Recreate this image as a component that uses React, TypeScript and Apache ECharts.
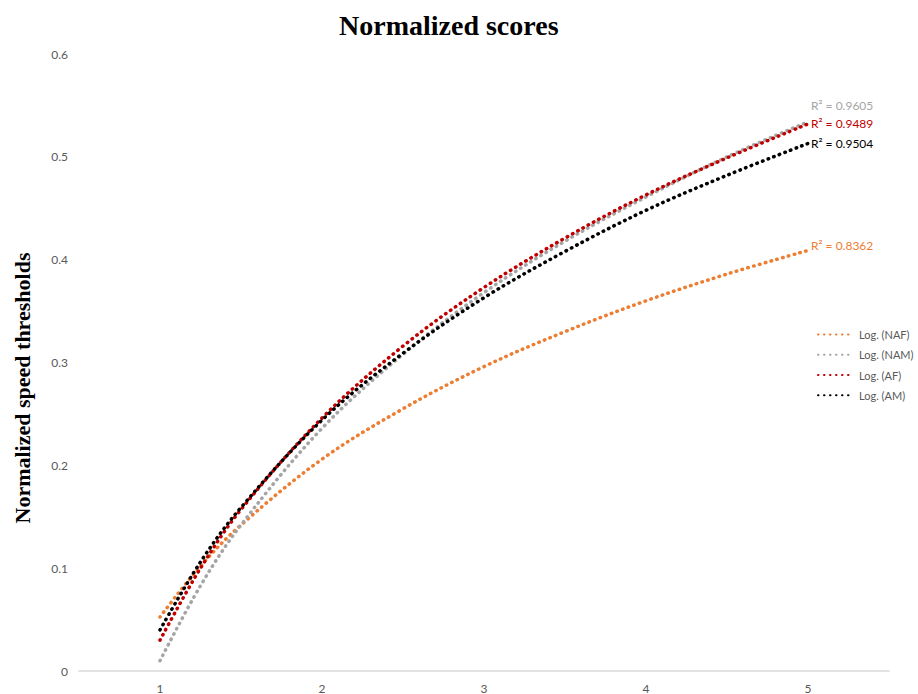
import React, { useEffect, useRef } from "react";
import * as echarts from "echarts";

const xPoints = [1, 1.25, 1.5, 2, 2.5, 3, 3.5, 4, 4.5, 5];
const nafValues = [0.0525, 0.102, 0.142, 0.206, 0.255, 0.296, 0.33, 0.36, 0.386, 0.409];
const namValues = [0.01, 0.083, 0.142, 0.236, 0.308, 0.368, 0.418, 0.461, 0.5, 0.534];
const afValues = [0.03, 0.1, 0.157, 0.246, 0.316, 0.373, 0.421, 0.463, 0.499, 0.532];
const amValues = [0.04, 0.106, 0.159, 0.244, 0.309, 0.363, 0.408, 0.448, 0.482, 0.513];

const seriesNames = ["Log. (NAF)", "Log. (NAM)", "Log. (AF)", "Log. (AM)"];
const seriesColors = ["#ED7D31", "#A5A5A5", "#C00000", "#000000"];
const r2Labels = ["R² = 0.8362", "R² = 0.9605", "R² = 0.9489", "R² = 0.9504"];
const labelOffsets = [[0, -5], [0, -16], [0, 0], [0, 0]];

const title = "Normalized scores";
const yTitle = "Normalized speed thresholds";

export default function App() {
  const ref = useRef<HTMLDivElement>(null);
  useEffect(() => {
    document.body.style.margin = "0";
    if (!ref.current) return;
    const chart = echarts.init(ref.current, undefined, { renderer: "svg" });
    const allValues = [nafValues, namValues, afValues, amValues];
    const font = "Lato, 'Open Sans', sans-serif";
    chart.setOption({
      animation: false,
      backgroundColor: "#ffffff",
      title: {
        text: title,
        left: 334,
        top: 6,
        textStyle: {
          fontFamily: "'Liberation Serif', 'Times New Roman', serif",
          fontWeight: "bold",
          fontSize: 28,
          color: "#000000",
        },
      },
      graphic: [
        {
          type: "text",
          x: 22,
          y: 388,
          rotation: Math.PI / 2,
          style: {
            text: yTitle,
            fontFamily: "'Liberation Serif', 'Times New Roman', serif",
            fontWeight: "bold",
            fontSize: 22,
            fill: "#000000",
            textAlign: "center",
            textVerticalAlign: "middle",
          },
        },
      ],
      legend: {
        orient: "vertical",
        left: 812,
        top: 324,
        itemWidth: 36,
        itemHeight: 14,
        itemGap: 9,
        data: seriesNames,
        itemStyle: { opacity: 0 },
        textStyle: { fontFamily: font, fontSize: 11, color: "#595959" },
      },
      grid: { left: 79, right: 29, top: 54, bottom: 23, containLabel: false },
      xAxis: {
        type: "value",
        min: 0.5,
        max: 5.5,
        interval: 0.5,
        axisLine: { show: true, lineStyle: { color: "#D9D9D9", width: 1.5 } },
        axisTick: { show: false },
        splitLine: { show: false },
        axisLabel: {
          margin: 11,
          fontFamily: font,
          fontSize: 12,
          color: "#595959",
          formatter: (v: number) => (Number.isInteger(v) && v >= 1 && v <= 5 ? String(v) : ""),
        },
      },
      yAxis: {
        type: "value",
        min: 0,
        max: 0.6,
        interval: 0.1,
        axisLine: { show: false },
        axisTick: { show: false },
        splitLine: { show: false },
        axisLabel: {
          margin: 11,
          fontFamily: font,
          fontSize: 12,
          color: "#595959",
          formatter: (v: number) => (v === 0 ? "0" : v.toFixed(1)),
        },
      },
      series: seriesNames.map((name, i) => ({
        name,
        type: "line",
        smooth: 0.35,
        symbol: "none",
        color: seriesColors[i],
        lineStyle: { color: seriesColors[i], width: 3.5, type: [0.5, 5.5], cap: "round" },
        data: xPoints.map((x, j) => [x, allValues[i][j]]),
        endLabel: {
          show: true,
          formatter: r2Labels[i],
          color: seriesColors[i],
          fontFamily: font,
          fontSize: 12,
          distance: 3,
          offset: labelOffsets[i],
        },
      })),
    });
    return () => chart.dispose();
  }, []);
  return <div ref={ref} style={{ width: 918, height: 694 }} />;
}
